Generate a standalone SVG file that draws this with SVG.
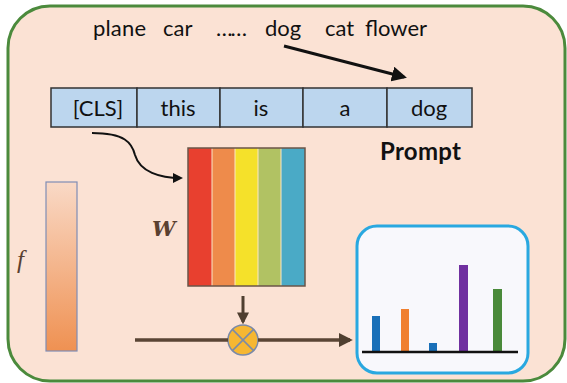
<svg xmlns="http://www.w3.org/2000/svg" width="567" height="383" viewBox="0 0 567 383">
<style>
.t{font-family:Lato,"Open Sans","Liberation Sans",sans-serif;font-size:22px;fill:#111}
.cell{fill:#bcd6ee;stroke:#333;stroke-width:1.5}
.sep{stroke:#fbe6c8;stroke-width:1}
.bar{stroke:none}
</style>
<defs>
<linearGradient id="fg" x1="0" y1="0" x2="0" y2="1">
<stop offset="0" stop-color="#f9d9c6"/>
<stop offset="1" stop-color="#ef9152"/>
</linearGradient>
<marker id="ah" viewBox="0 0 10 10" refX="8" refY="5" markerWidth="5" markerHeight="5" orient="auto" markerUnits="strokeWidth">
<path d="M0,0 L10,5 L0,10 z" fill="#111"/>
</marker>
<marker id="ahb" viewBox="0 0 10 10" refX="8" refY="5" markerWidth="4" markerHeight="4" orient="auto" markerUnits="strokeWidth">
<path d="M0,0 L10,5 L0,10 z" fill="#4f3f30"/>
</marker>
</defs>
<rect x="0" y="0" width="567" height="383" fill="#fff"/>
<rect id="frame" x="8" y="6" width="557" height="375" rx="42" fill="#fbe2d4" stroke="#4b8a3c" stroke-width="3"/>

<g id="vocab">
<text class="t" x="93" y="36" textLength="53">plane</text>
<text class="t" x="163" y="36">car</text>
<text class="t" x="216" y="36" textLength="31">……</text>
<text class="t" x="265" y="36">dog</text>
<text class="t" x="325" y="36">cat</text>
<text class="t" x="365" y="36" textLength="62">flower</text>
</g>

<g id="prompt">
<rect class="cell" x="51" y="88" width="86" height="39"/>
<rect class="cell" x="137" y="88" width="83" height="39"/>
<rect class="cell" x="220" y="88" width="83" height="39"/>
<rect class="cell" x="303" y="88" width="84" height="39"/>
<rect class="cell" x="387" y="88" width="85" height="39"/>
<g class="t" text-anchor="middle">
<text x="98" y="116">[CLS]</text>
<text x="178" y="116">this</text>
<text x="261" y="116">is</text>
<text x="345" y="116">a</text>
<text x="429" y="116">dog</text>
</g>
<text x="380" y="160" textLength="81" style="font-family:Lato,'Open Sans','Liberation Sans',sans-serif;font-size:24px;font-weight:bold;fill:#111">Prompt</text>
</g>

<g id="W">
<rect x="188" y="148" width="24" height="138" fill="#e8402f"/>
<rect x="212" y="148" width="23" height="138" fill="#ee8b4b"/>
<rect x="235" y="148" width="23" height="138" fill="#f5e12a"/>
<rect x="258" y="148" width="23" height="138" fill="#b1c263"/>
<rect x="281" y="148" width="24" height="138" fill="#4aaac6"/>
<line class="sep" x1="212" y1="148" x2="212" y2="286"/>
<line class="sep" x1="235" y1="148" x2="235" y2="286"/>
<line class="sep" x1="258" y1="148" x2="258" y2="286"/>
<line class="sep" x1="281" y1="148" x2="281" y2="286"/>
<rect x="188" y="148" width="117" height="138" fill="none" stroke="#6b5548" stroke-width="1.5"/>
<text x="152" y="236" style="font-family:'DejaVu Serif','Liberation Serif',serif;font-size:21px;font-style:italic;font-weight:bold;fill:#5a4030">W</text>
</g>

<g id="f">
<rect x="46" y="182" width="31" height="169" fill="url(#fg)" stroke="#7f8db5" stroke-width="1.2"/>
<text x="17" y="268" style="font-family:'Liberation Serif','DejaVu Serif',serif;font-size:25px;font-style:italic;fill:#5a4030">f</text>
</g>

<g id="mult">
<circle cx="243" cy="340" r="15" fill="#f6b732" stroke="#7a8aa8" stroke-width="1.5"/>
<line x1="232.4" y1="329.4" x2="253.6" y2="350.6" stroke="#7a8aa8" stroke-width="1.5"/>
<line x1="253.6" y1="329.4" x2="232.4" y2="350.6" stroke="#7a8aa8" stroke-width="1.5"/>
</g>

<g id="chart">
<rect x="357" y="226" width="171" height="147" rx="20" fill="#f8f8fc" stroke="#29a8e0" stroke-width="3"/>
<rect class="bar" x="372" y="316" width="8" height="36" fill="#1a70b8"/>
<rect class="bar" x="401" y="309" width="8" height="43" fill="#f08030"/>
<rect class="bar" x="429" y="343" width="8" height="9" fill="#1a70b8"/>
<rect class="bar" x="459" y="265" width="9" height="87" fill="#7030a0"/>
<rect class="bar" x="493" y="289" width="9" height="63" fill="#4a8a3a"/>
<line x1="362" y1="352" x2="518" y2="352" stroke="#111" stroke-width="2.5"/>
</g>

<g id="connectors">
<line x1="284" y1="46" x2="404" y2="77" stroke="#111" stroke-width="3" marker-end="url(#ah)"/>
<path d="M92,133 C125,133 132,143 135,155 C140,172 160,178 181,178" fill="none" stroke="#111" stroke-width="2" marker-end="url(#ah)"/>
<line x1="243" y1="296" x2="243" y2="322" stroke="#4f3f30" stroke-width="3" marker-end="url(#ahb)"/>
<line x1="135" y1="340" x2="228" y2="340" stroke="#5a4535" stroke-width="3.5"/>
<line x1="258" y1="340" x2="350" y2="340" stroke="#5a4535" stroke-width="3.5" marker-end="url(#ahb)"/>
</g>
</svg>
